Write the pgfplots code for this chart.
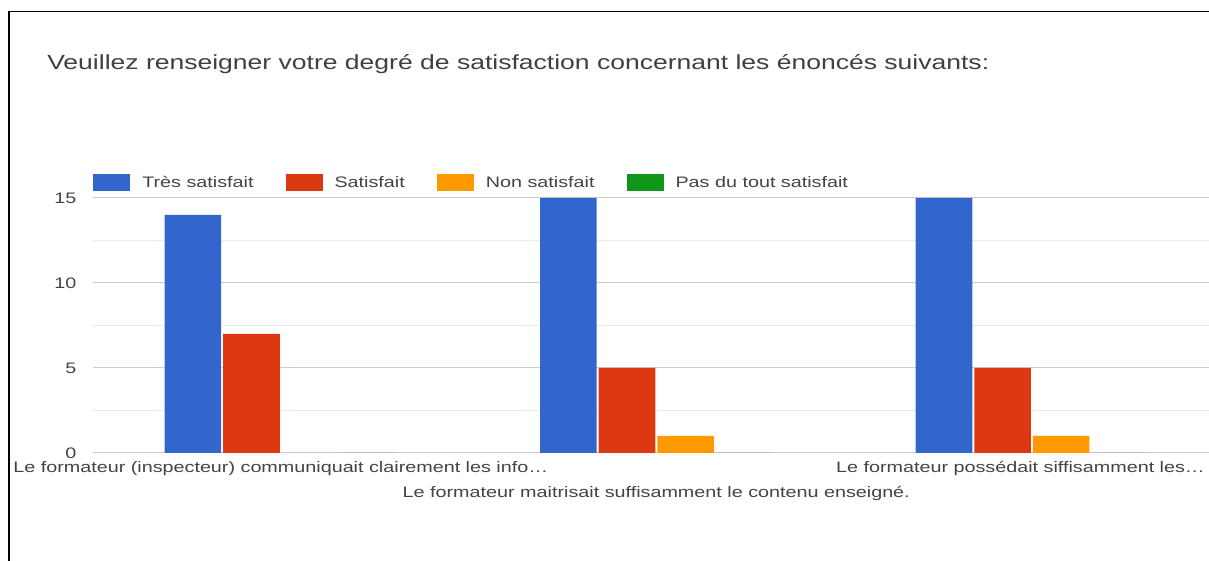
\documentclass[border=0pt]{standalone}
\usepackage{fontspec}
\setmainfont{Liberation Sans}[FakeStretch=1.3]
\usepackage{pgfplots}
\pgfplotsset{compat=1.18}

\definecolor{gBlue}{HTML}{3366CC}
\definecolor{gRed}{HTML}{DC3912}
\definecolor{gOrange}{HTML}{FF9900}
\definecolor{gGreen}{HTML}{109618}
\definecolor{titlegray}{HTML}{404040}
\definecolor{labgray}{HTML}{444444}
\definecolor{gridmaj}{HTML}{CCCCCC}
\definecolor{gridmin}{HTML}{EBEBEB}
\definecolor{basegray}{HTML}{8A8A8A}

\begin{document}
\begin{tikzpicture}
\useasboundingbox (0,0) rectangle (906.75pt,420pt);
\clip (0,0) rectangle (906.75pt,420pt);
\fill[white] (0,0) rectangle (906.75pt,420pt);
% frame of the screenshot (left and top only)
\draw[black, line width=1.1pt] (6.75pt,-2pt) -- (6.75pt,411.2pt) -- (912pt,411.2pt);
\node[anchor=base west, inner sep=0pt, text=titlegray,
      font=\fontsize{15.3}{18}\selectfont] at (35.25pt,367.5pt)
  {Veuillez renseigner votre degré de satisfaction concernant les énoncés suivants:};

\begin{axis}[
  at={(69.75pt,80.25pt)}, anchor=south west,
  width=844.9pt, height=191.25pt, scale only axis,
  ybar=1.5pt, bar width=42.4pt,
  xmin=-0.5, xmax=2.5, ymin=0, ymax=15,
  xtick={0,1,2},
  xticklabels={
    {Le formateur (inspecteur) communiquait clairement les info…},
    {\mbox{}\\[10pt]Le formateur maitrisait suffisamment le contenu enseigné.},
    {Le formateur possédait siffisamment les…\hspace{17pt}}},
  ytick={0,5,10,15}, minor y tick num=1,
  ymajorgrids, yminorgrids,
  major grid style={draw=gridmaj, line width=0.75pt},
  minor grid style={draw=gridmin, line width=0.75pt},
  axis line style={draw=none},
  major tick length=0pt, minor tick length=0pt,
  tick style={draw=none},
  extra y ticks={0}, extra y tick labels={},
  extra y tick style={grid style={draw=basegray, line width=1.2pt}},
  /pgf/number format/assume math mode=true,
  yticklabel style={font=\fontsize{11.4}{13}\selectfont, text=labgray, xshift=-9pt},
  xticklabel style={font=\fontsize{11.4}{17}\selectfont, text=labgray, align=center, yshift=-2.5pt},
  legend columns=4,
  legend style={at={(0,1)}, anchor=west, yshift=11.6pt, draw=none, fill=none,
    inner sep=0pt, font=\fontsize{11.4}{13}\selectfont, text=labgray,
    nodes={inner sep=0pt},
    /tikz/every odd column/.append style={column sep=9pt},
    /tikz/every even column/.append style={column sep=24pt}},
  legend image code/.code={\fill[#1] (0pt,-6.4pt) rectangle (27.75pt,6.4pt);},
]
\addplot[fill=gBlue, draw=none] coordinates {(0,14) (1,15) (2,15)};
\addplot[fill=gRed, draw=none] coordinates {(0,7) (1,5) (2,5)};
\addplot[fill=gOrange, draw=none] coordinates {(0,0) (1,1) (2,1)};
\addplot[fill=gGreen, draw=none] coordinates {(0,0) (1,0) (2,0)};
\legend{Très satisfait, Satisfait, Non satisfait, Pas du tout satisfait}
\end{axis}
\end{tikzpicture}
\end{document}
